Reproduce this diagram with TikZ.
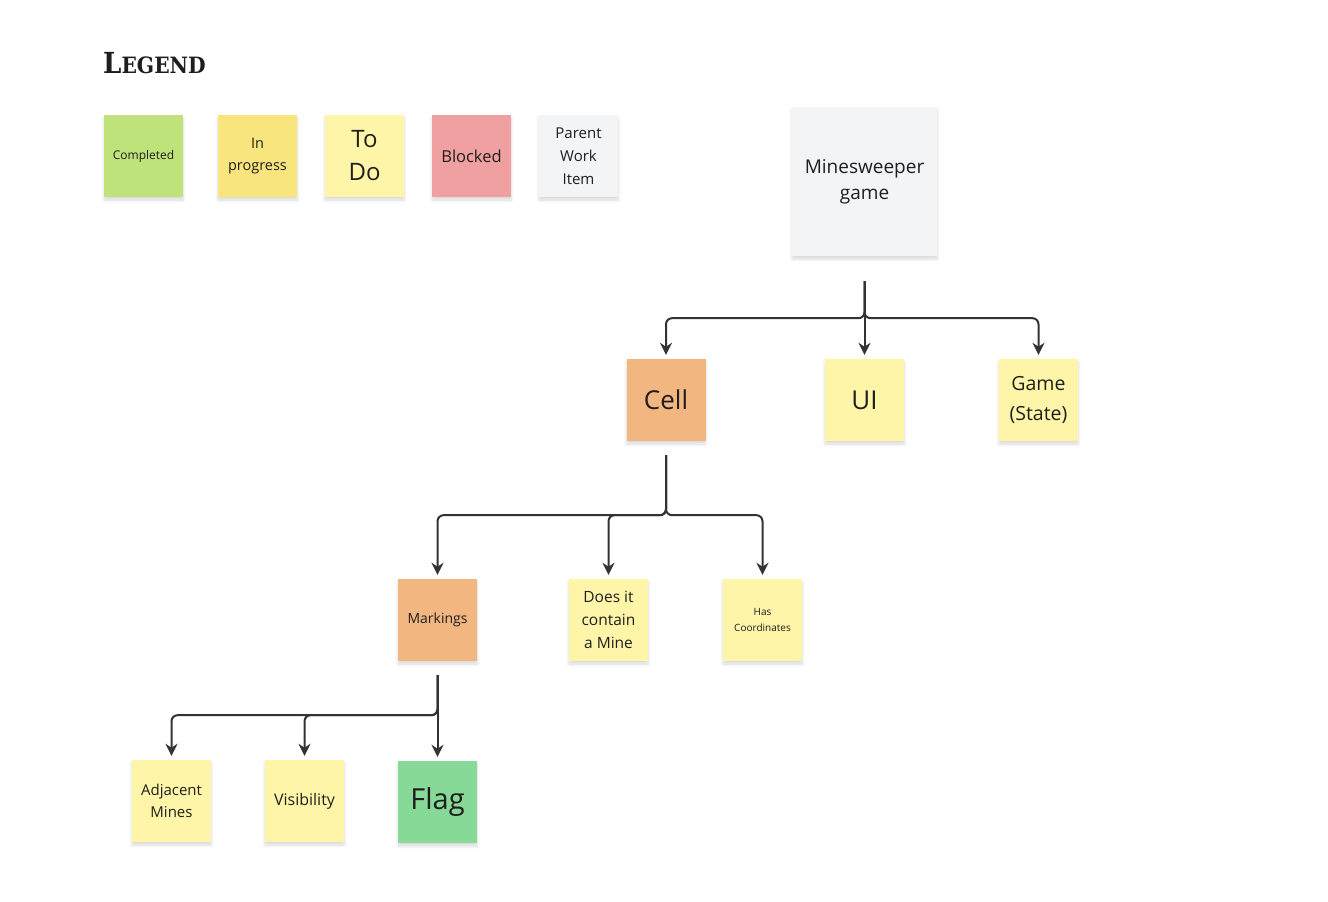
\documentclass[tikz,border=0pt]{standalone}
\usepackage{fontspec}
\setmainfont{Open Sans}
\newfontfamily\legendfont{DejaVu Serif Condensed}
\usetikzlibrary{arrows.meta,shadows.blur}
\definecolor{cdone}{HTML}{BFE27A}
\definecolor{cprog}{HTML}{F8E57D}
\definecolor{ctodo}{HTML}{FEF5A8}
\definecolor{cblock}{HTML}{F0A0A0}
\definecolor{cparent}{HTML}{F3F4F6}
\definecolor{corange}{HTML}{F2B680}
\definecolor{cflag}{HTML}{86D996}
\definecolor{cline}{HTML}{333333}
\definecolor{ctext}{HTML}{1E1E1E}
\tikzset{
  sticky/.style={rectangle, minimum width=79pt, minimum height=82pt, inner sep=0pt,
    align=center, text=ctext,
    blur shadow={shadow xshift=0pt, shadow yshift=-3pt, shadow blur steps=6, shadow blur radius=3pt, shadow opacity=15}},
  conn/.style={draw=cline, line width=2pt, rounded corners=6pt, -{Stealth[length=12pt,width=12pt]}},
}
\begin{document}
\begin{tikzpicture}[x=1pt,y=-1pt]
\useasboundingbox (0,0) rectangle (1328,902);
\node[anchor=west, inner sep=0pt, text=ctext] (legend) at (103,63) {\legendfont\bfseries{\fontsize{29}{29}\selectfont L}{\fontsize{22.5}{22.5}\selectfont EGEND}};
% legend stickies
\node[sticky, fill=cdone, font=\fontsize{12}{14}\selectfont] (ldone) at (143.5,156) {Completed};
\node[sticky, fill=cprog, font=\fontsize{14.5}{22}\selectfont] (lprog) at (257.5,156) {In\\progress};
\node[sticky, fill=ctodo, font=\fontsize{24}{33}\selectfont] (ltodo) at (364.5,156) {To\\Do};
\node[sticky, fill=cblock, font=\fontsize{16.5}{20}\selectfont] (lblock) at (471.5,156) {Blocked};
\node[sticky, fill=cparent, font=\fontsize{15}{23}\selectfont] (lparent) at (578.5,156) {Parent\\Work\\Item};
% tree
\node[sticky, fill=cparent, minimum width=145pt, minimum height=149pt, font=\fontsize{19}{26}\selectfont] (mine) at (864.5,181.5) {Minesweeper\\game};
\node[sticky, fill=corange, font=\fontsize{26}{30}\selectfont] (cell) at (666,400) {Cell};
\node[sticky, fill=ctodo, font=\fontsize{26}{30}\selectfont] (ui) at (864.5,400) {UI};
\node[sticky, fill=ctodo, font=\fontsize{19.5}{30}\selectfont] (game) at (1038.5,400) {Game\\(State)};
\node[sticky, fill=corange, font=\fontsize{14}{18}\selectfont] (mark) at (437.5,620) {Markings};
\node[sticky, fill=ctodo, font=\fontsize{15.5}{23}\selectfont] (does) at (608.5,620) {Does it\\contain\\a Mine};
\node[sticky, fill=ctodo, font=\fontsize{10}{16}\selectfont] (has) at (762.5,620) {Has\\Coordinates};
\node[sticky, fill=ctodo, font=\fontsize{15}{22}\selectfont] (adj) at (171.5,801) {Adjacent\\Mines};
\node[sticky, fill=ctodo, font=\fontsize{16}{20}\selectfont] (vis) at (304.5,801) {Visibility};
\node[sticky, fill=cflag, font=\fontsize{29}{32}\selectfont] (flag) at (437.5,802) {Flag};
% connectors
\draw[conn, shorten <=25pt, shorten >=4pt] (mine.south) -- ++(0,62) -| (cell.north);
\draw[conn, shorten <=25pt, shorten >=4pt] (mine.south) -- (ui.north);
\draw[conn, shorten <=25pt, shorten >=4pt] (mine.south) -- ++(0,62) -| (game.north);
\draw[conn, shorten <=14pt, shorten >=4pt] (cell.south) -- ++(0,74) -| (mark.north);
\draw[conn, shorten <=14pt, shorten >=4pt] (cell.south) -- ++(0,74) -| (does.north);
\draw[conn, shorten <=14pt, shorten >=4pt] (cell.south) -- ++(0,74) -| (has.north);
\draw[conn, shorten <=14pt, shorten >=4pt] (mark.south) -- ++(0,54) -| (adj.north);
\draw[conn, shorten <=14pt, shorten >=4pt] (mark.south) -- ++(0,54) -| (vis.north);
\draw[conn, shorten <=14pt, shorten >=4pt] (mark.south) -- (flag.north);
\end{tikzpicture}
\end{document}
